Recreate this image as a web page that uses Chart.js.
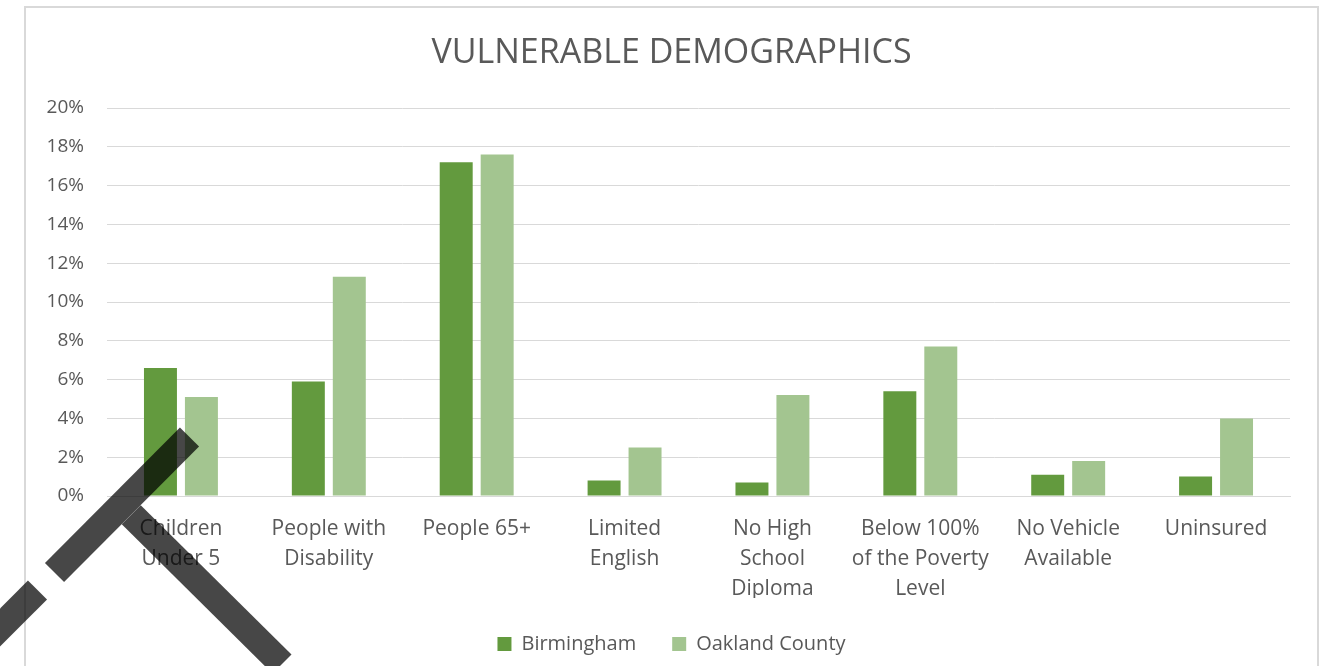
<!DOCTYPE html>
<html>
<head>
<meta charset="utf-8">
<title>Vulnerable Demographics</title>
<script src="https://cdn.jsdelivr.net/npm/chart.js@4"></script>
<style>
  html, body { margin: 0; padding: 0; background: #ffffff; }
  canvas { display: block; }
</style>
</head>
<body>
<canvas id="chart" width="1330" height="666"></canvas>
<script>
// Category labels (one array entry per text line)
const categories = [
  ["Children", "Under 5"],
  ["People with", "Disability"],
  ["People 65+"],
  ["Limited", "English"],
  ["No High", "School", "Diploma"],
  ["Below 100%", "of the Poverty", "Level"],
  ["No Vehicle", "Available"],
  ["Uninsured"]
];

// Share of population, in percent
const birmingham = [6.6, 5.9, 17.2, 0.8, 0.7, 5.4, 1.1, 1.0];
const oaklandCounty = [5.1, 11.3, 17.6, 2.5, 5.2, 7.7, 1.8, 4.0];

// Value axis range and step (percent)
const yMin = 0;
const yMax = 20;
const yStep = 2;

const textColor = "#595959";
const gridColor = "#d9d9d9";
const fontFamily = "'Open Sans', 'Noto Sans', sans-serif";

// Light frame around the chart
const chartFrame = {
  id: "chartFrame",
  beforeDraw(chart) {
    const ctx = chart.ctx;
    ctx.save();
    ctx.strokeStyle = "#d9d9d9";
    ctx.lineWidth = 2;
    ctx.strokeRect(25, 7, 1293, 720);
    ctx.restore();
  }
};

// Dark diagonal marker over the lower-left corner
const cornerMarker = {
  id: "cornerMarker",
  afterDraw(chart) {
    const ctx = chart.ctx;
    ctx.save();
    ctx.strokeStyle = "rgba(0,0,0,0.72)";
    ctx.lineWidth = 27;
    ctx.lineCap = "butt";
    const segs = [
      [189.5, 437, 54.5, 572.5],
      [37.5, 590, -40, 667.5],
      [131.25, 514.75, 282, 664]
    ];
    for (const s of segs) {
      ctx.beginPath();
      ctx.moveTo(s[0], s[1]);
      ctx.lineTo(s[2], s[3]);
      ctx.stroke();
    }
    ctx.restore();
  }
};

new Chart(document.getElementById("chart"), {
  type: "bar",
  data: {
    labels: categories,
    datasets: [
      {
        label: "Birmingham",
        data: birmingham,
        backgroundColor: "#639a3e",
        borderWidth: 0,
        categoryPercentage: 0.554,
        barPercentage: 0.805
      },
      {
        label: "Oakland County",
        data: oaklandCounty,
        backgroundColor: "#a3c590",
        borderWidth: 0,
        categoryPercentage: 0.554,
        barPercentage: 0.805
      }
    ]
  },
  options: {
    responsive: false,
    animation: false,
    devicePixelRatio: 1,
    layout: {
      padding: { left: 25, right: 12, top: 10, bottom: 2 }
    },
    plugins: {
      title: {
        display: true,
        text: "VULNERABLE DEMOGRAPHICS",
        color: textColor,
        font: { family: fontFamily, size: 34, weight: "normal", lineHeight: 1.2 },
        padding: { top: 23, bottom: 34.2 }
      },
      legend: {
        display: true,
        position: "bottom",
        labels: {
          color: textColor,
          font: { family: fontFamily, size: 20 },
          boxWidth: 14,
          boxHeight: 14,
          padding: 36
        }
      },
      tooltip: { enabled: false }
    },
    scales: {
      x: {
        grid: { display: false, drawTicks: false },
        border: { display: true, color: gridColor, width: 1 },
        ticks: {
          color: textColor,
          font: { family: fontFamily, size: 21, lineHeight: 1.43 },
          padding: 18,
          maxRotation: 0,
          autoSkip: false
        },
        afterFit(scale) { scale.height = 102; }
      },
      y: {
        min: yMin,
        max: yMax,
        grid: { color: gridColor, lineWidth: 1, drawTicks: false },
        border: { display: false },
        ticks: {
          stepSize: yStep,
          color: textColor,
          font: { family: fontFamily, size: 19 },
          padding: 23,
          callback: (v) => v + "%"
        },
        afterFit(scale) { scale.width = 82; }
      },
      // empty spacer on the right so the plot ends short of the frame
      yRight: {
        position: "right",
        display: true,
        grid: { display: false, drawTicks: false },
        border: { display: false },
        ticks: { display: false },
        afterFit(scale) { scale.width = 28; }
      }
    }
  },
  plugins: [chartFrame, cornerMarker]
});
</script>
</body>
</html>
